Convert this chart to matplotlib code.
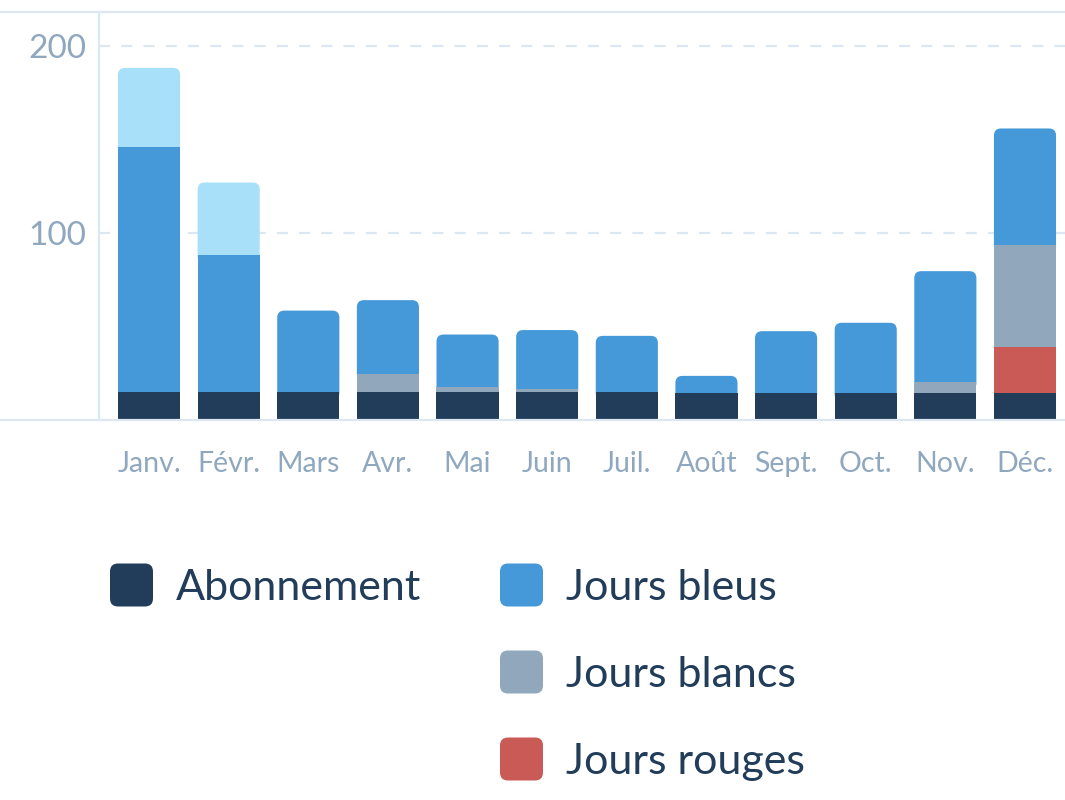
# -*- coding: utf-8 -*-
"""
Consommation mensuelle : barres empilees (Abonnement / Jours bleus / blancs / rouges)
"""

import numpy as np
import matplotlib
matplotlib.use("Agg")
import matplotlib.pyplot as plt
from matplotlib.patches import FancyBboxPatch
from matplotlib.lines import Line2D


# ---- data ----
months = ["Janv.", "Févr.", "Mars", "Avr.", "Mai", "Juin",
          "Juil.", "Août", "Sept.", "Oct.", "Nov.", "Déc."]

abonnement = [15.0, 15.0, 15.0, 15.0, 15.0, 15.0,
              15.0, 14.2, 14.2, 14.2, 14.2, 14.2]
jours_rouges = [0, 0, 0, 0, 0, 0, 0, 0, 0, 0, 0, 24.6]
jours_blancs = [0, 0, 0, 9.7, 2.7, 1.7, 0, 0, 0, 0, 6.2, 54.7]
jours_bleus = [131.2, 73.0, 43.5, 39.4, 28.0, 31.4,
               30.0, 9.4, 33.3, 37.8, 59.2, 62.4]
jours_bleus_sup = [42.1, 39.0, 0, 0, 0, 0, 0, 0, 0, 0, 0, 0]

y_ticks = [100, 200]
legend_labels = ["Abonnement", "Jours bleus", "Jours blancs", "Jours rouges"]

# ---- colours ----
c_dark = "#213d5a"
c_blue = "#4599d9"
c_grey = "#91a8bc"
c_red = "#c95a55"
c_light = "#a9e0f9"
c_axis = "#dde7f1"
c_tick = "#8fa8bf"

W, H, DPI = 1065, 800, 100


# ----------
def px_x(p):
    return p / W


# ----------
def px_y(p):
    return 1 - p / H


# ----------
def main():
    plt.rcParams["font.family"] = ["Lato", "DejaVu Sans"]

    fig = plt.figure(figsize=(W / DPI, H / DPI), dpi=DPI)
    fig.patch.set_facecolor("white")

    ax_left, ax_right, ax_top, ax_bottom = 99, 1065, 12, 420
    ax = fig.add_axes([px_x(ax_left), px_y(ax_bottom),
                       px_x(ax_right - ax_left), (ax_bottom - ax_top) / H])

    x = np.arange(len(months))
    bar_w = 0.78
    step_px = 79.6
    x_min = -50 / step_px
    x_max = 11 + 40 / step_px
    y_max = (ax_bottom - ax_top) / 1.87

    ax.set_xlim(x_min, x_max)
    ax.set_ylim(0, y_max)

    # data units per pixel, for the rounded tops
    ux = (x_max - x_min) / (ax_right - ax_left)
    uy = y_max / (ax_bottom - ax_top)
    radius = 7 * ux
    aspect = uy / ux

    series = [(abonnement, c_dark), (jours_rouges, c_red),
              (jours_blancs, c_grey), (jours_bleus, c_blue),
              (jours_bleus_sup, c_light)]

    for i in range(len(months)):
        bottom = 0.0
        segs = []
        for vals, col in series:
            v = vals[i]
            if v > 0:
                segs.append((bottom, v, col))
                bottom += v
        # top segment : rounded on top
        b0, h0, col0 = segs[-1]
        ext = 8 * uy
        cap = FancyBboxPatch((x[i] - bar_w / 2, b0 - ext), bar_w, h0 + ext,
                             boxstyle="round,pad=0,rounding_size=%f" % radius,
                             mutation_aspect=aspect, facecolor=col0,
                             edgecolor="none", zorder=2)
        ax.add_patch(cap)
        for b, h, col in segs[:-1]:
            ax.bar(x[i], h, bottom=b, width=bar_w, color=col,
                   edgecolor="none", zorder=3)

    # grid
    for yv in y_ticks:
        ax.axhline(yv, color=c_axis, linewidth=1.6, linestyle=(0, (5, 5)),
                   zorder=1)

    for sp in ax.spines.values():
        sp.set_visible(False)

    ax.set_xticks(x)
    ax.set_xticklabels(months, fontsize=20.5, color=c_tick)
    ax.set_yticks(y_ticks)
    ax.set_yticklabels([str(v) for v in y_ticks], fontsize=24, color=c_tick)
    ax.tick_params(axis="x", length=0, pad=22)
    ax.tick_params(axis="y", length=0, pad=9)

    # frame lines (figure coordinates)
    fig.add_artist(Line2D([0, 1], [px_y(ax_top), px_y(ax_top)],
                          color=c_axis, linewidth=1.6))
    fig.add_artist(Line2D([0, 1], [px_y(ax_bottom), px_y(ax_bottom)],
                          color=c_axis, linewidth=1.6, zorder=5))
    fig.add_artist(Line2D([px_x(ax_left), px_x(ax_left)],
                          [px_y(ax_bottom), px_y(ax_top)],
                          color=c_axis, linewidth=1.6))

    # ---- legend (drawn by hand) ----
    leg_colors = [c_dark, c_blue, c_grey, c_red]
    leg_pos = [(110, 585), (500, 585), (500, 672), (500, 759)]
    sq = 43
    for lab, col, (lx, ly) in zip(legend_labels, leg_colors, leg_pos):
        box = FancyBboxPatch((px_x(lx), px_y(ly + sq / 2)), sq / W, sq / H,
                             boxstyle="round,pad=0,rounding_size=%f" % (8 / W),
                             mutation_aspect=W / H, transform=fig.transFigure,
                             facecolor=col, edgecolor="none")
        fig.add_artist(box)
        fig.text(px_x(lx + sq + 23), px_y(ly + 3), lab, fontsize=31,
                 color=c_dark, va="center", ha="left")

    fig.savefig("out.png", dpi=DPI)


# ----------
if __name__ == "__main__":
    main()
